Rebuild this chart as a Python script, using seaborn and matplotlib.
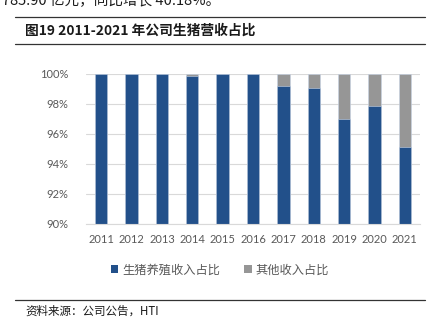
import matplotlib
matplotlib.use("Agg")
import matplotlib.pyplot as plt
import seaborn as sns
import pandas as pd
from matplotlib.patches import Patch
from matplotlib.lines import Line2D

years = ["2011", "2012", "2013", "2014", "2015", "2016", "2017", "2018", "2019", "2020", "2021"]
pig_share = [100.0, 100.0, 100.0, 99.9, 99.98, 99.98, 99.17, 99.04, 97.03, 97.9, 95.15]
other_share = [100 - v for v in pig_share]
yticks = [90, 92, 94, 96, 98, 100]
ytick_labels = ["90%", "92%", "94%", "96%", "98%", "100%"]
series_names = ["生猪养殖收入占比", "其他收入占比"]
title = "图19 2011-2021 年公司生猪营收占比"
source = "资料来源：公司公告，HTI"
top_text = "785.90 亿元，同比增长 40.18%。"

BLUE = "#22508A"
GREY = "#969696"

sns.set_theme(style="white")
plt.rcParams["font.family"] = ["Lato", "Noto Sans CJK SC", "DejaVu Sans"]
CJK = ["Noto Sans CJK SC", "DejaVu Sans"]

df = pd.DataFrame({"year": years, "pig": pig_share,
                   "total": [p + o for p, o in zip(pig_share, other_share)]})

fig = plt.figure(figsize=(4.4, 3.22), dpi=100)
ax = fig.add_axes([86 / 440, 1 - 224 / 322, (420 - 86) / 440, (224 - 74) / 322])

sns.barplot(data=df, x="year", y="total", color=GREY, width=0.41, ax=ax,
            edgecolor="#C8D4E6", linewidth=0.4, saturation=1)
sns.barplot(data=df, x="year", y="pig", color=BLUE, width=0.41, ax=ax,
            edgecolor="#C8D4E6", linewidth=0.4, saturation=1)

ax.set_ylim(90, 100)
ax.set_yticks(yticks)
ax.set_yticklabels(ytick_labels)
ax.set_xlabel("")
ax.set_ylabel("")
ax.yaxis.grid(True, color="#D9D9D9", linewidth=0.8)
ax.set_axisbelow(True)
for s in ["top", "right", "left"]:
    ax.spines[s].set_visible(False)
ax.spines["bottom"].set_color("#D9D9D9")
ax.spines["bottom"].set_linewidth(0.8)
ax.tick_params(axis="both", length=0, labelsize=8, colors="#595959")
ax.tick_params(axis="y", pad=13)
ax.tick_params(axis="x", pad=7)

# legend
handles = [Patch(facecolor=BLUE, edgecolor="none"), Patch(facecolor=GREY, edgecolor="none")]
fig.legend(handles, series_names, loc="center", bbox_to_anchor=(0.5, 1 - 270 / 322),
           ncol=2, frameon=False, handlelength=0.6, handleheight=0.6, handletextpad=0.3,
           columnspacing=2.0, prop={"family": CJK, "size": 8.8}, labelcolor="#595959")

# rules and texts
fig.add_artist(Line2D([15 / 440, 425 / 440], [1 - 17 / 322] * 2, color="#333333", linewidth=0.9))
fig.add_artist(Line2D([15 / 440, 425 / 440], [1 - 44 / 322] * 2, color="#333333", linewidth=0.9))
fig.add_artist(Line2D([15 / 440, 425 / 440], [1 - 300 / 322] * 2, color="#333333", linewidth=0.9))
fig.text(25 / 440, 1 - 30.5 / 322, title, fontsize=9.9, fontweight="bold",
         family=CJK, va="center", ha="left", color="#1a1a1a")
fig.text(25 / 440, 1 - 311 / 322, source, fontsize=8.3, family=CJK,
         va="center", ha="left", color="#1a1a1a")
fig.text(2 / 440, 1 - 1 / 322, top_text, fontsize=10.5, family=CJK,
         va="center", ha="left", color="#1a1a1a")

fig.savefig("out.png", dpi=100)
